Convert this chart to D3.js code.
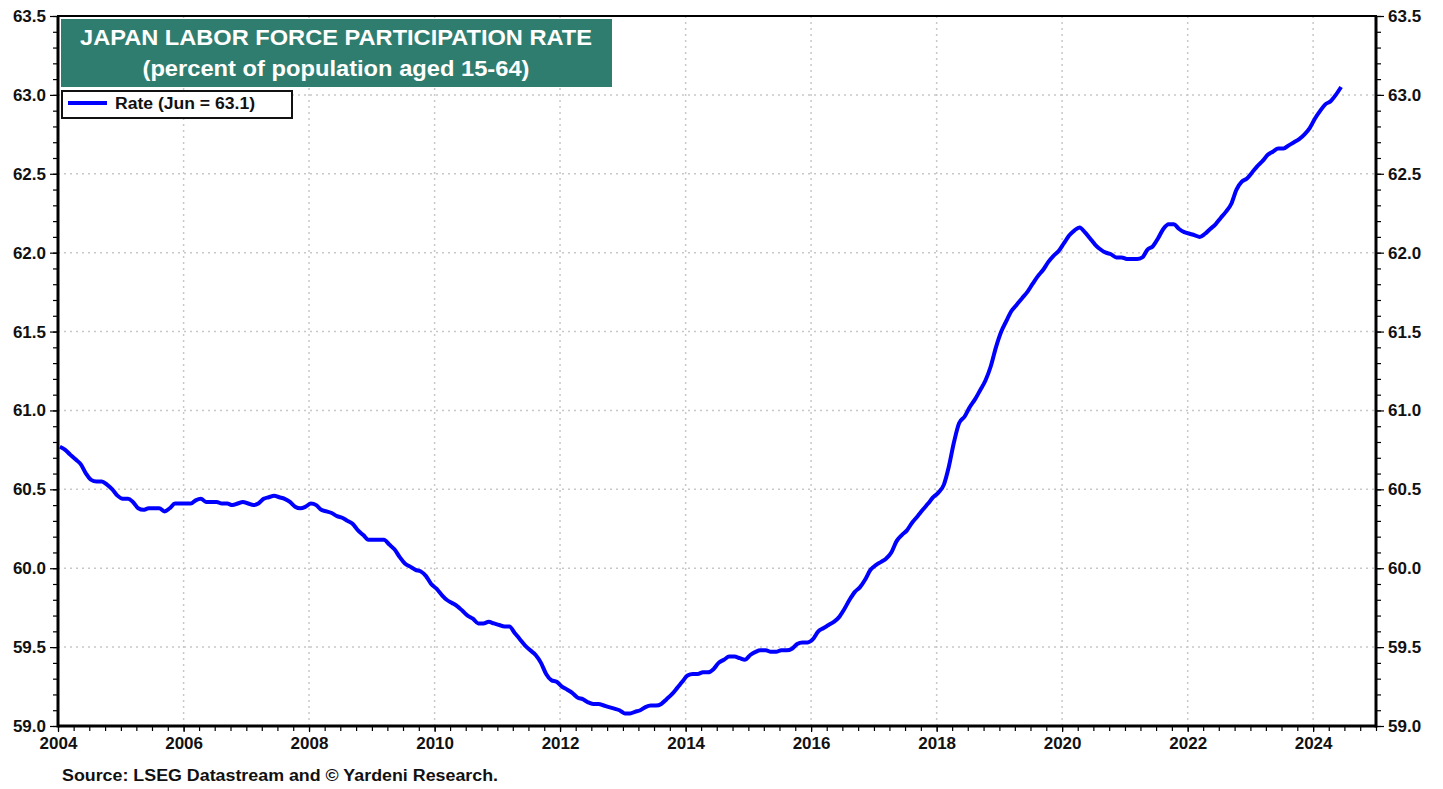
<!DOCTYPE html>
<html lang="en">
<head>
    <meta charset="UTF-8">
    <title>Japan Labor Force Participation Rate</title>
    <script src="https://d3js.org/d3.v7.min.js"></script>
    <style>
        body {
            margin: 0;
            background: #fff;
            font-family: "Liberation Sans", Arial, sans-serif;
        }
        svg text {
            font-weight: bold;
            fill: #111;
        }
    </style>
</head>
<body>
    <svg id="chart" width="1443" height="789"></svg>

    <script>
        // Monthly values, Jan..Dec of each year
        const rate2004 = [60.77, 60.75, 60.72, 60.69, 60.66, 60.60, 60.56, 60.55, 60.55, 60.53, 60.50, 60.46];
        const rate2005 = [60.44, 60.44, 60.42, 60.38, 60.37, 60.38, 60.38, 60.38, 60.36, 60.38, 60.41, 60.41];
        const rate2006 = [60.41, 60.41, 60.43, 60.44, 60.42, 60.42, 60.42, 60.41, 60.41, 60.40, 60.41, 60.42];
        const rate2007 = [60.41, 60.40, 60.41, 60.44, 60.45, 60.46, 60.45, 60.44, 60.42, 60.39, 60.38, 60.39];
        const rate2008 = [60.41, 60.40, 60.37, 60.36, 60.35, 60.33, 60.32, 60.30, 60.28, 60.24, 60.21, 60.18];
        const rate2009 = [60.18, 60.18, 60.18, 60.15, 60.12, 60.07, 60.03, 60.01, 59.99, 59.98, 59.95, 59.90];
        const rate2010 = [59.87, 59.83, 59.80, 59.78, 59.76, 59.73, 59.70, 59.68, 59.65, 59.65, 59.66, 59.65];
        const rate2011 = [59.64, 59.63, 59.63, 59.59, 59.55, 59.51, 59.48, 59.45, 59.40, 59.33, 59.29, 59.28];
        const rate2012 = [59.25, 59.23, 59.21, 59.18, 59.17, 59.15, 59.14, 59.14, 59.13, 59.12, 59.11, 59.10];
        const rate2013 = [59.08, 59.08, 59.09, 59.10, 59.12, 59.13, 59.13, 59.14, 59.17, 59.20, 59.24, 59.28];
        const rate2014 = [59.32, 59.33, 59.33, 59.34, 59.34, 59.36, 59.40, 59.42, 59.44, 59.44, 59.43, 59.42];
        const rate2015 = [59.45, 59.47, 59.48, 59.48, 59.47, 59.47, 59.48, 59.48, 59.49, 59.52, 59.53, 59.53];
        const rate2016 = [59.55, 59.60, 59.62, 59.64, 59.66, 59.69, 59.74, 59.80, 59.85, 59.88, 59.93, 59.99];
        const rate2017 = [60.02, 60.04, 60.06, 60.10, 60.17, 60.21, 60.24, 60.29, 60.33, 60.37, 60.41, 60.45];
        const rate2018 = [60.48, 60.53, 60.64, 60.80, 60.92, 60.96, 61.02, 61.07, 61.13, 61.19, 61.28, 61.40];
        const rate2019 = [61.50, 61.57, 61.63, 61.67, 61.71, 61.75, 61.80, 61.85, 61.89, 61.94, 61.98, 62.01];
        const rate2020 = [62.06, 62.11, 62.14, 62.16, 62.13, 62.09, 62.05, 62.02, 62.00, 61.99, 61.97, 61.97];
        const rate2021 = [61.96, 61.96, 61.96, 61.97, 62.02, 62.04, 62.09, 62.15, 62.18, 62.18, 62.15, 62.13];
        const rate2022 = [62.12, 62.11, 62.10, 62.12, 62.15, 62.18, 62.22, 62.26, 62.31, 62.40, 62.45, 62.47];
        const rate2023 = [62.51, 62.55, 62.58, 62.62, 62.64, 62.66, 62.66, 62.68, 62.70, 62.72, 62.75, 62.79];
        const rate2024 = [62.85, 62.90, 62.94, 62.96, 63.00, 63.05];

        const yearlyRates = [rate2004, rate2005, rate2006, rate2007, rate2008, rate2009, rate2010,
            rate2011, rate2012, rate2013, rate2014, rate2015, rate2016, rate2017, rate2018,
            rate2019, rate2020, rate2021, rate2022, rate2023, rate2024];
        const firstYear = 2004;

        const yLabelTicks = [59.0, 59.5, 60.0, 60.5, 61.0, 61.5, 62.0, 62.5, 63.0, 63.5];
        const xLabelYears = [2004, 2006, 2008, 2010, 2012, 2014, 2016, 2018, 2020, 2022, 2024];

        const titleLines = ['JAPAN LABOR FORCE PARTICIPATION RATE', '(percent of population aged 15-64)'];
        const legendText = 'Rate (Jun = 63.1)';
        const sourceText = 'Source: LSEG Datastream and \u00A9 Yardeni Research.';

        // flatten into dated points (mid-month)
        const data = [];
        yearlyRates.forEach((arr, i) => {
            arr.forEach((v, m) => data.push({ date: new Date(firstYear + i, m, 12), value: v }));
        });

        const plot = { left: 58, right: 1376, top: 16, bottom: 726 };
        const svg = d3.select('#chart');

        const x = d3.scaleTime()
            .domain([new Date(2004, 0, 1), new Date(2025, 0, 1)])
            .range([plot.left, plot.right]);

        const y = d3.scaleLinear()
            .domain([59, 63.5])
            .range([plot.bottom, plot.top]);

        // grid
        const grid = svg.append('g')
            .attr('stroke', '#c8c8c8')
            .attr('stroke-width', 1.5)
            .attr('stroke-dasharray', '2,4');
        grid.selectAll('.hg')
            .data(yLabelTicks.filter(d => d > 59 && d < 63.5))
            .enter().append('line')
            .attr('x1', plot.left).attr('x2', plot.right)
            .attr('y1', d => y(d)).attr('y2', d => y(d));
        grid.selectAll('.vg')
            .data(xLabelYears.filter(d => d > 2004))
            .enter().append('line')
            .attr('x1', d => x(new Date(d, 0, 1))).attr('x2', d => x(new Date(d, 0, 1)))
            .attr('y1', plot.top).attr('y2', plot.bottom);

        // y axis ticks (minor 0.1, major 0.5)
        const yMinor = d3.range(590, 636, 1).map(d => d / 10);
        const fmt = d3.format('.1f');

        svg.append('g')
            .attr('transform', `translate(${plot.left},0)`)
            .call(d3.axisLeft(y).tickValues(yMinor).tickSize(5).tickFormat(''));
        svg.append('g')
            .attr('transform', `translate(${plot.left},0)`)
            .call(d3.axisLeft(y).tickValues(yLabelTicks).tickSize(8).tickPadding(4).tickFormat(fmt));

        svg.append('g')
            .attr('transform', `translate(${plot.right},0)`)
            .call(d3.axisRight(y).tickValues(yMinor).tickSize(5).tickFormat(''));
        svg.append('g')
            .attr('transform', `translate(${plot.right},0)`)
            .call(d3.axisRight(y).tickValues(yLabelTicks).tickSize(8).tickPadding(4).tickFormat(fmt));

        // x axis: quarterly ticks, labels every two years
        svg.append('g')
            .attr('transform', `translate(0,${plot.bottom})`)
            .call(d3.axisBottom(x).ticks(d3.timeMonth.every(3)).tickSize(5).tickFormat(''));
        svg.append('g')
            .attr('transform', `translate(0,${plot.bottom})`)
            .call(d3.axisBottom(x)
                .tickValues(xLabelYears.map(d => new Date(d, 0, 1)))
                .tickSize(6).tickPadding(5)
                .tickFormat(d3.timeFormat('%Y')));

        svg.selectAll('.domain').remove();
        svg.selectAll('.tick line').attr('stroke', '#000').attr('stroke-width', 1.2);
        svg.selectAll('.tick text')
            .style('font-family', '"Liberation Sans", Arial, sans-serif')
            .style('font-size', '17px')
            .style('font-weight', 'bold')
            .attr('fill', '#111');

        // frame
        svg.append('rect')
            .attr('x', plot.left).attr('y', plot.top)
            .attr('width', plot.right - plot.left).attr('height', plot.bottom - plot.top)
            .attr('fill', 'none').attr('stroke', '#000').attr('stroke-width', 2);
        svg.append('line')
            .attr('x1', plot.left).attr('x2', plot.left)
            .attr('y1', plot.top).attr('y2', plot.bottom + 1.5)
            .attr('stroke', '#000').attr('stroke-width', 3);
        svg.append('line')
            .attr('x1', plot.right).attr('x2', plot.right)
            .attr('y1', plot.top).attr('y2', plot.bottom + 1.5)
            .attr('stroke', '#000').attr('stroke-width', 3);
        svg.append('line')
            .attr('x1', plot.left).attr('x2', plot.right)
            .attr('y1', plot.bottom).attr('y2', plot.bottom)
            .attr('stroke', '#000').attr('stroke-width', 3);

        // the line
        const line = d3.line()
            .x(d => x(d.date))
            .y(d => y(d.value))
            .curve(d3.curveMonotoneX);

        svg.append('path')
            .datum(data)
            .attr('fill', 'none')
            .attr('stroke', '#0000ff')
            .attr('stroke-width', 4)
            .attr('stroke-linejoin', 'round')
            .attr('d', line);

        // title box
        svg.append('rect')
            .attr('x', 61).attr('y', 19)
            .attr('width', 551).attr('height', 68)
            .attr('fill', '#2f7d6f');
        const titleWidths = [512, 387];
        svg.selectAll('.title')
            .data(titleLines)
            .enter().append('text')
            .attr('x', (d, i) => 336 - titleWidths[i] / 2)
            .attr('y', (d, i) => 45 + i * 31)
            .attr('textLength', (d, i) => titleWidths[i])
            .attr('lengthAdjust', 'spacingAndGlyphs')
            .style('font-size', '22px')
            .style('fill', '#fff')
            .text(d => d);

        // legend
        svg.append('rect')
            .attr('x', 62).attr('y', 91)
            .attr('width', 230).attr('height', 27)
            .attr('fill', '#fff')
            .attr('stroke', '#111').attr('stroke-width', 2);
        svg.append('line')
            .attr('x1', 68).attr('x2', 107)
            .attr('y1', 103).attr('y2', 103)
            .attr('stroke', '#0000ff').attr('stroke-width', 4);
        svg.append('text')
            .attr('x', 115).attr('y', 109)
            .attr('textLength', 140)
            .attr('lengthAdjust', 'spacingAndGlyphs')
            .style('font-size', '16px')
            .text(legendText);

        // source
        svg.append('text')
            .attr('x', 62).attr('y', 781)
            .attr('textLength', 436)
            .attr('lengthAdjust', 'spacingAndGlyphs')
            .style('font-size', '16px')
            .text(sourceText);
    </script>
</body>
</html>
